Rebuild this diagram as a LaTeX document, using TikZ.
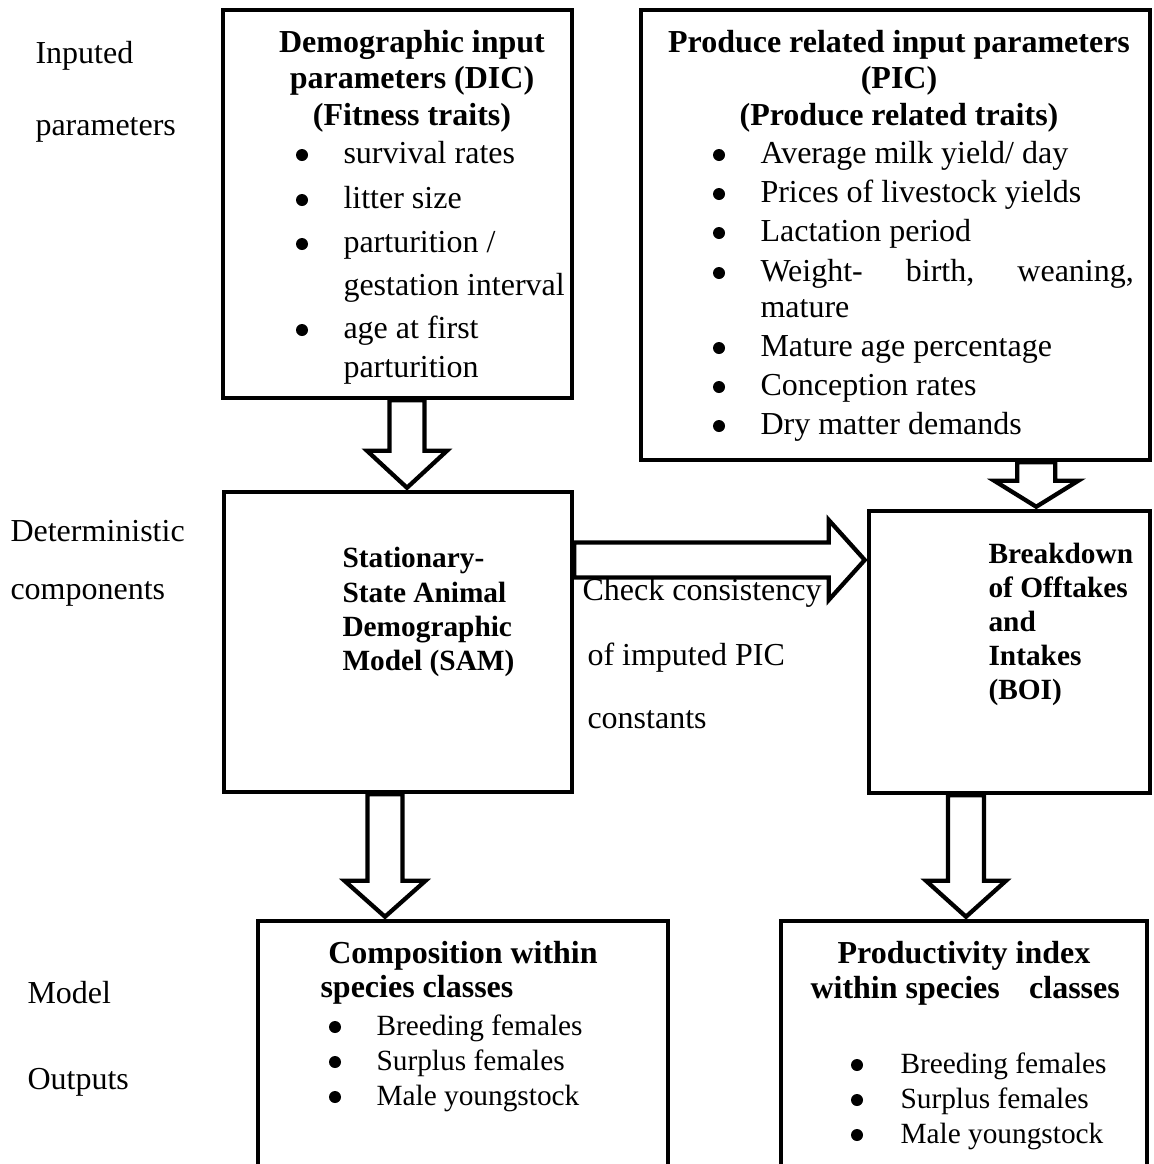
\documentclass[tikz,border=0pt]{standalone}
\usepackage{fontspec}
\setmainfont{Liberation Serif}
\usetikzlibrary{calc,fit}
\pgfdeclarelayer{bg}
\pgfsetlayers{bg,main}
\tikzset{
  box/.style={draw, line width=1.7pt, inner sep=0pt, line join=miter},
  blockarrow/.style={draw, fill=white, line width=1.6pt, line join=miter, miter limit=10},
  lbl/.style={anchor=base west, inner sep=0pt, font=\fontsize{12}{14}\selectfont},
  ttl/.style={anchor=base, inner sep=0pt, font=\fontsize{12}{14}\selectfont\bfseries},
  ttlw/.style={anchor=base west, inner sep=0pt, font=\fontsize{12}{14}\selectfont\bfseries},
  smttl/.style={anchor=base west, inner sep=0pt, font=\fontsize{11}{13}\selectfont\bfseries},
  itm/.style={anchor=base west, inner sep=0pt, font=\fontsize{12}{14}\selectfont},
  sitm/.style={anchor=base west, inner sep=0pt, font=\fontsize{11}{13}\selectfont},
  bul/.style={circle, fill=black, inner sep=0pt, minimum size=4.5pt},
}
% #1 style, #2 name, #3 bullet x, #4 text x, #5 baseline y, #6 text
\newcommand\bitem[6][itm]{%
  \node[bul] (#2b) at ($(#3,#5)+(0,-8)$) {};
  \node[#1] (#2) at (#4,#5) {#6};}
% #1 start, #2 tip, #3 shaft half width, #4 head half width, #5 head length
\newcommand\downblock[5]{%
  \draw[blockarrow] ($(#1)+(-#3,0)$) -- ($(#2)+(-#3,-#5)$) -- ($(#2)+(-#4,-#5)$) -- (#2)
    -- ($(#2)+(#4,-#5)$) -- ($(#2)+(#3,-#5)$) -- ($(#1)+(#3,0)$) -- cycle;}
\newcommand\rightblock[5]{%
  \draw[blockarrow] ($(#1)+(0,-#3)$) -- ($(#2)+(-#5,-#3)$) -- ($(#2)+(-#5,-#4)$) -- (#2)
    -- ($(#2)+(-#5,#4)$) -- ($(#2)+(-#5,#3)$) -- ($(#1)+(0,#3)$) -- cycle;}
\begin{document}
\begin{tikzpicture}[x=0.375pt,y=-0.375pt]
\clip (0,0) rectangle (1154,1164);
\begin{pgfonlayer}{bg}
\fill[white] (0,0) rectangle (1154,1164);
\end{pgfonlayer}

% ---- boxes ----
\node[box, fit={(223,10) (572,398)}] (dic) {};
\node[box, fit={(641,10) (1150,460)}] (pic) {};
\node[box, fit={(224,492) (572,792)}] (sam) {};
\node[box, fit={(869,511) (1150,793)}] (boi) {};
\node[box, fit={(258,921) (668,1200)}] (comp) {};
\node[box, fit={(781,921) (1147,1200)}] (prod) {};

% ---- block arrows ----
\coordinate (a1s) at ($(dic.south)+(9.5,0)$);
\coordinate (a1t) at ($(a1s |- sam.north)+(0,-2)$);
\coordinate (a2s) at ($(pic.south east)+(-116,0)$);
\coordinate (a2t) at ($(a2s |- boi.north)+(0,-2)$);
\coordinate (a3s) at ($(sam.east)+(0,-82)$);
\coordinate (a3t) at ($(boi.west |- a3s)+(-2,0)$);
\coordinate (a4s) at ($(sam.south)+(-13,0)$);
\coordinate (a4t) at ($(a4s |- comp.north)+(0,-2)$);
\coordinate (a5s) at ($(boi.south)+(-43.5,0)$);
\coordinate (a5t) at ($(a5s |- prod.north)+(0,-2)$);
\begin{pgfonlayer}{bg}
\downblock{a1s}{a1t}{17.5}{40}{37}
\downblock{a2s}{a2t}{19}{42}{26}
\rightblock{a3s}{a3t}{17.5}{40}{36}
\downblock{a4s}{a4t}{17.5}{40.5}{36}
\downblock{a5s}{a5t}{18}{40}{36}
\end{pgfonlayer}

% ---- side labels ----
\node[lbl] (l1) at (35,63) {Inputed};
\node[lbl] (l2) at (35,135) {parameters};
\node[lbl] (l3) at (10,541) {Deterministic};
\node[lbl] (l4) at (10,599) {components};
\node[lbl] (l5) at (27,1003) {Model};
\node[lbl] (l6) at (27,1089) {Outputs};

% ---- DIC ----
\node[ttl] (dt1) at (412,52) {Demographic input};
\node[ttl] (dt2) at (412,88) {parameters (DIC)};
\node[ttl] (dt3) at (412,125) {(Fitness traits)};
\bitem{d1}{302}{343}{163}{survival rates}
\bitem{d2}{302}{343}{208}{litter size}
\bitem{d3}{302}{343}{252}{parturition /}
\node[itm] (d3c) at (343,295) {gestation interval};
\bitem{d4}{302}{343}{338}{age at first}
\node[itm] (d4c) at (343,377) {parturition};

% ---- PIC ----
\node[ttl] (pt1) at (899,52) {Produce related input parameters};
\node[ttl] (pt2) at (899,88) {(PIC)};
\node[ttl] (pt3) at (899,125) {(Produce related traits)};
\bitem{p1}{719}{760}{163}{Average milk yield/ day}
\bitem{p2}{719}{760}{202}{Prices of livestock yields}
\bitem{p3}{719}{760}{241}{Lactation period}
\bitem{p4}{719}{760}{281}{\hbox to 140pt{Weight-\hfil birth,\hfil weaning,}}
\node[itm] (p4c) at (760,317) {mature};
\bitem{p5}{719}{760}{356}{Mature age percentage}
\bitem{p6}{719}{760}{395}{Conception rates}
\bitem{p7}{719}{760}{434}{Dry matter demands}

% ---- SAM ----
\node[smttl] (s1) at (342,567) {Stationary-};
\node[smttl] (s2) at (342,602) {State Animal};
\node[smttl] (s3) at (342,636) {Demographic};
\node[smttl] (s4) at (342,670) {Model (SAM)};

% ---- BOI ----
\node[smttl] (b1) at (988,563) {Breakdown};
\node[smttl] (b2) at (988,597) {of Offtakes};
\node[smttl] (b3) at (988,631) {and};
\node[smttl] (b4) at (988,665) {Intakes};
\node[smttl] (b5) at (988,699) {(BOI)};

% ---- arrow label ----
\node[itm] (c1) at (582,600) {Check consistency};
\node[itm] (c2) at (587,665) {of imputed PIC};
\node[itm] (c3) at (587,728) {constants};

% ---- composition ----
\node[ttl] (ct1) at (463,963) {Composition within};
\node[ttlw] (ct2) at (320,997) {species classes};
\bitem[sitm]{cc1}{335}{376}{1035}{Breeding females}
\bitem[sitm]{cc2}{335}{376}{1070}{Surplus females}
\bitem[sitm]{cc3}{335}{376}{1105}{Male youngstock}

% ---- productivity ----
\node[ttl] (rt1) at (964,963) {Productivity index};
\node[ttlw] (rt2) at (810,998) {\hbox to 116pt{within species\hfil classes}};
\bitem[sitm]{rr1}{857}{900}{1073}{Breeding females}
\bitem[sitm]{rr2}{857}{900}{1108}{Surplus females}
\bitem[sitm]{rr3}{857}{900}{1143}{Male youngstock}
\end{tikzpicture}
\end{document}
